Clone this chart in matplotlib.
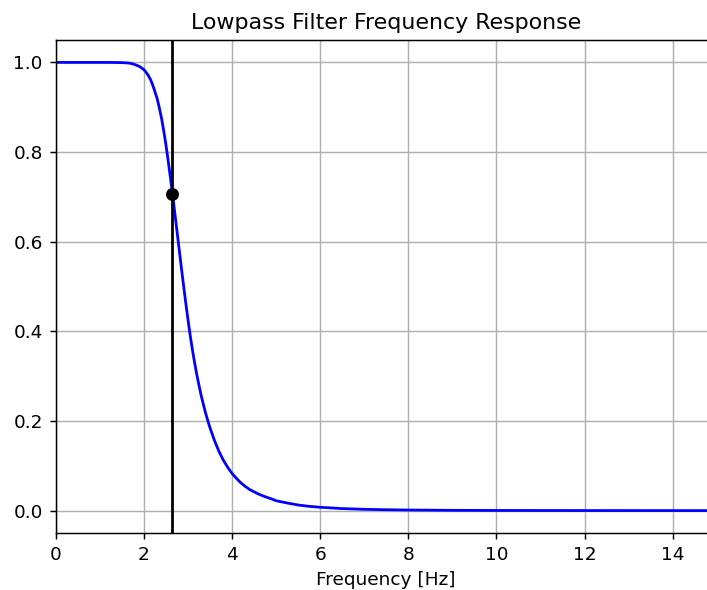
import matplotlib
matplotlib.use("Agg")
import matplotlib.pyplot as plt

# Frequency response
freq_hz = [0.0, 0.5, 1.0, 1.3, 1.5, 1.6, 1.7, 1.8, 1.9, 2.0, 2.05, 2.1, 2.15, 2.2,
           2.25, 2.3, 2.35, 2.4, 2.45, 2.5, 2.55, 2.6, 2.65, 2.7, 2.75, 2.8, 2.85,
           2.9, 2.95, 3.0, 3.05, 3.1, 3.15, 3.2, 3.25, 3.3, 3.35, 3.4, 3.45, 3.5,
           3.6, 3.7, 3.8, 3.9, 4.0, 4.1, 4.2, 4.3, 4.4, 4.5, 4.6, 4.75, 4.9, 5.0,
           5.25, 5.5, 5.75, 6.0, 6.5, 7.0, 7.5, 8.0, 9.0, 10.0, 12.0, 15.0]
gain = [1.0, 1.0, 1.0, 0.9999, 0.9995, 0.999, 0.998, 0.995, 0.991, 0.984, 0.978,
        0.971, 0.962, 0.950, 0.935, 0.920, 0.899, 0.876, 0.848, 0.817, 0.782,
        0.745, 0.707, 0.666, 0.625, 0.584, 0.543, 0.503, 0.464, 0.427, 0.392,
        0.360, 0.331, 0.304, 0.280, 0.257, 0.237, 0.218, 0.201, 0.185, 0.157,
        0.133, 0.113, 0.097, 0.083, 0.072, 0.062, 0.054, 0.047, 0.042, 0.037,
        0.031, 0.026, 0.022, 0.017, 0.0125, 0.0095, 0.0074, 0.0045, 0.0029,
        0.0019, 0.0013, 0.0006, 0.0003, 0.0001, 0.0]
cutoff_hz = 2.65
cutoff_gain = 0.5 ** 0.5
x_max = 15.0

dpi = 133
fig = plt.figure(figsize=(707 / dpi, 590 / dpi), dpi=dpi)
ax = fig.add_axes([0.0788, 0.0966, 0.935, 0.8356])
ax.plot(freq_hz, gain, 'b')
ax.plot(cutoff_hz, cutoff_gain, 'ko')
ax.axvline(cutoff_hz, color='k')
ax.set_xlim(0, x_max)
ax.set_title("Lowpass Filter Frequency Response")
ax.set_xlabel("Frequency [Hz]")
ax.grid()
fig.savefig("out.png", dpi=dpi)
